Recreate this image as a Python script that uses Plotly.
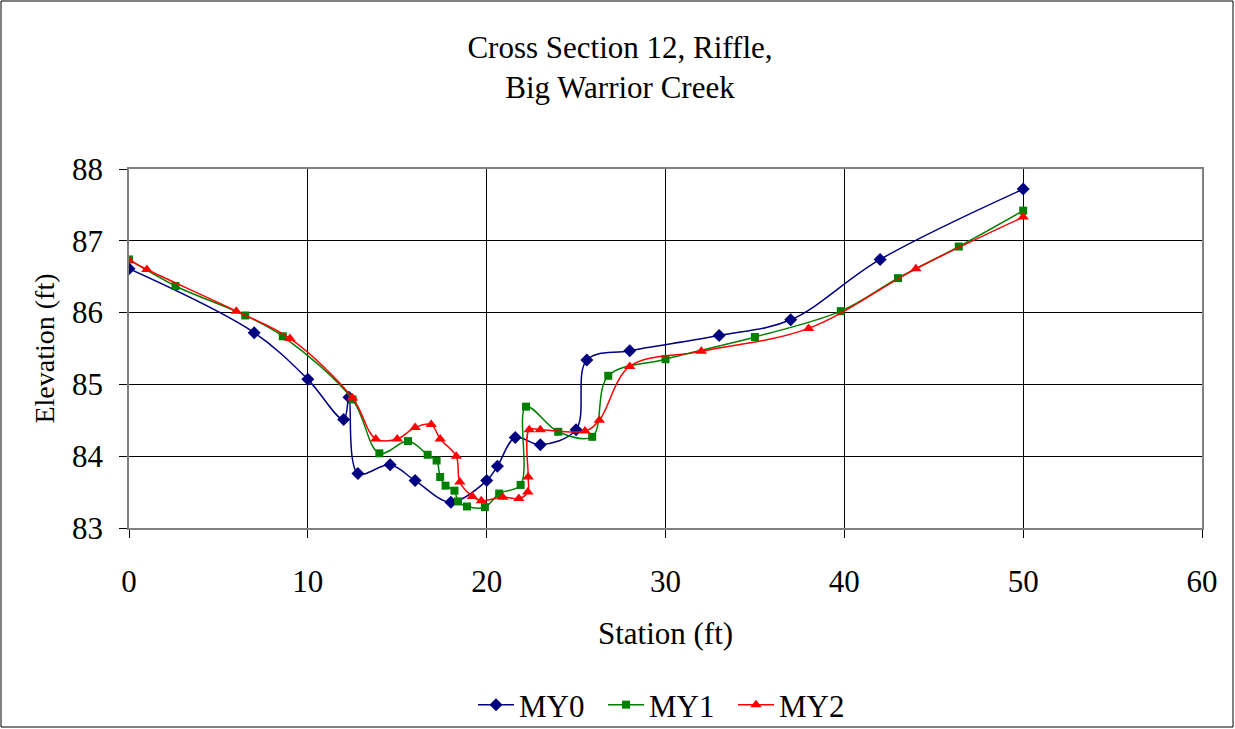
import plotly.graph_objects as go

# MY0
my0_x = [0, 7, 10, 12, 12.3, 12.8, 14.6, 16, 18, 20, 20.6, 21.6, 23, 25, 25.6, 28, 33, 37, 42, 50]
my0_y = [86.61, 85.72, 85.07, 84.51, 84.82, 83.76, 83.88, 83.66, 83.36, 83.66, 83.86, 84.26,
         84.16, 84.37, 85.34, 85.47, 85.68, 85.90, 86.74, 87.72]

# MY1
my1_x = [0, 2.6, 6.5, 8.6, 12.5, 14, 15.6, 16.7, 17.2, 17.4, 17.7, 18.2, 18.4, 18.9, 19.9,
         20.7, 21.9, 22.2, 24, 25.9, 26.8, 30, 35, 39.8, 43, 46.4, 50]
my1_y = [86.74, 86.37, 85.96, 85.67, 84.79, 84.04, 84.21, 84.02, 83.94, 83.71, 83.59, 83.52,
         83.37, 83.30, 83.29, 83.48, 83.60, 84.69, 84.34, 84.27, 85.12, 85.35, 85.66, 86.02,
         86.48, 86.92, 87.42]

# MY2
my2_x = [0, 1, 6, 9, 12.5, 13.8, 15, 16, 16.9, 17.4, 18.3, 18.5, 19.2, 19.7, 20.9, 21.8,
         22.3, 22.32, 22.38, 23, 25.5, 26.3, 28, 32, 38, 44, 50]
my2_y = [86.73, 86.60, 86.02, 85.64, 84.81, 84.24, 84.24, 84.40, 84.44, 84.24, 84.00, 83.64,
         83.44, 83.38, 83.43, 83.41, 83.50, 83.71, 84.37, 84.37, 84.35, 84.50, 85.25, 85.46,
         85.78, 86.61, 87.33]

x_ticks = [0, 10, 20, 30, 40, 50, 60]
y_ticks = [83, 84, 85, 86, 87, 88]

FONT = "Liberation Serif, Times New Roman, serif"

fig = go.Figure()
series = [
    ("MY0", my0_x, my0_y, "#000080", "diamond", 10),
    ("MY1", my1_x, my1_y, "#008000", "square", 8),
    ("MY2", my2_x, my2_y, "#FF0000", "triangle-up", 10),
]
for name, xs, ys, col, sym, sz in series:
    fig.add_trace(go.Scatter(
        x=xs, y=ys, name=name, mode="lines+markers",
        line=dict(color=col, width=1.5, shape="spline", smoothing=1.0),
        marker=dict(symbol=sym, size=sz, color=col),
    ))

W, H = 1235, 729
L, R, T, B = 129, 33, 169, 201
pw, ph = W - L - R, H - T - B

def px_to_paper_x(px):
    return (px - L) / pw

def px_to_paper_y(py):
    return (H - B - py) / ph

fig.add_shape(type="rect", xref="paper", yref="paper",
              x0=px_to_paper_x(1), x1=px_to_paper_x(W - 2),
              y0=px_to_paper_y(H - 2), y1=px_to_paper_y(1),
              line=dict(color="black", width=1), layer="below")

fig.update_layout(
    width=W, height=H,
    margin=dict(l=L, r=R, t=T, b=B, autoexpand=False),
    paper_bgcolor="white", plot_bgcolor="white",
    font=dict(family=FONT, color="black", size=31),
    title=dict(text="Cross Section 12, Riffle,<br>Big Warrior Creek",
               x=px_to_paper_x(620), xanchor="center", xref="paper",
               y=1 - 58 / H, yanchor="middle", yref="container",
               font=dict(family=FONT, size=31, color="black")),
    xaxis=dict(range=[0, 60], tickvals=x_ticks, showgrid=True, gridcolor="black", gridwidth=1,
               zeroline=False, showline=True, linecolor="#808080", linewidth=1.5, mirror=True,
               ticks="outside", ticklen=8, tickcolor="black", ticklabelstandoff=17,
               automargin=False,
               tickfont=dict(family=FONT, size=31),
               title=dict(text="Station (ft)", font=dict(family=FONT, size=31), standoff=24)),
    yaxis=dict(range=[83, 88], tickvals=y_ticks, showgrid=True, gridcolor="black", gridwidth=1,
               zeroline=False, showline=True, linecolor="#808080", linewidth=1.5, mirror=True,
               ticks="outside", ticklen=8, tickcolor="black", ticklabelstandoff=10,
               automargin=False,
               tickfont=dict(family=FONT, size=31),
               title=dict(text="Elevation (ft)", font=dict(family=FONT, size=28), standoff=9)),
    legend=dict(orientation="h", x=px_to_paper_x(668), xanchor="center",
                y=px_to_paper_y(705), yanchor="middle",
                itemwidth=36, entrywidth=79, entrywidthmode="pixels",
                font=dict(family=FONT, size=31), bgcolor="rgba(0,0,0,0)"),
    showlegend=True,
)

fig.write_html("out.html", config={"displayModeBar": False},
               post_script="document.body.style.margin='0px';document.body.style.padding='0px';")
